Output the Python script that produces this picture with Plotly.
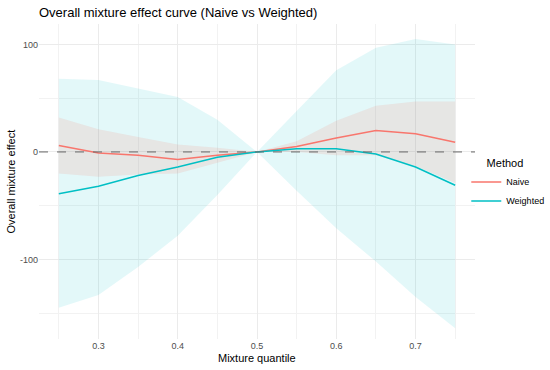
import plotly.graph_objects as go

quantile = [0.25, 0.30, 0.35, 0.40, 0.45, 0.50, 0.55, 0.60, 0.65, 0.70, 0.75]
naive = [6, -1, -3, -7, -3, 0, 5, 13, 20, 17, 9]
naive_lo = [-20, -23, -21, -20, -10, 0, 0, -3, -3, -13, -29]
naive_hi = [32, 21, 14, 7, 4, 0, 10, 29, 43, 47, 47]
weighted = [-39, -32, -22, -14, -5, 0, 3, 3, -2, -14, -31]
weighted_lo = [-145, -133, -107, -78, -40, 0, -36, -71, -102, -135, -164]
weighted_hi = [68, 67, 59, 51, 30, 0, 38, 76, 97, 105, 100]

x_ticks = [0.3, 0.4, 0.5, 0.6, 0.7]
y_ticks = [-100, 0, 100]

RED = "#F8766D"
TEAL = "#00BFC4"

fig = go.Figure()

# Weighted ribbon
fig.add_trace(go.Scatter(x=quantile, y=weighted_lo, mode="lines", line=dict(width=0),
                         showlegend=False, hoverinfo="skip"))
fig.add_trace(go.Scatter(x=quantile, y=weighted_hi, mode="lines", line=dict(width=0),
                         fill="tonexty", fillcolor="rgba(0,191,196,0.11)",
                         showlegend=False, hoverinfo="skip"))
# Naive ribbon
fig.add_trace(go.Scatter(x=quantile, y=naive_lo, mode="lines", line=dict(width=0),
                         showlegend=False, hoverinfo="skip"))
fig.add_trace(go.Scatter(x=quantile, y=naive_hi, mode="lines", line=dict(width=0),
                         fill="tonexty", fillcolor="rgba(248,118,109,0.14)",
                         showlegend=False, hoverinfo="skip"))

fig.add_hline(y=0, line=dict(color="#666666", width=1, dash="dash"))

fig.add_trace(go.Scatter(x=quantile, y=naive, mode="lines", name="Naive",
                         line=dict(color=RED, width=1.5)))
fig.add_trace(go.Scatter(x=quantile, y=weighted, mode="lines", name="Weighted",
                         line=dict(color=TEAL, width=1.5)))

font_family = "Liberation Sans, Arial, sans-serif"

fig.update_layout(
    width=550, height=370,
    margin=dict(l=39, r=75, t=24, b=31, autoexpand=False),
    paper_bgcolor="white", plot_bgcolor="white",
    font=dict(family=font_family, color="black", size=11),
    title=dict(text="Overall mixture effect curve (Naive vs Weighted)",
               x=39 / 550, xanchor="left", xref="container",
               y=1 - 12 / 370, yanchor="middle", yref="container",
               font=dict(size=13, color="black")),
    legend=dict(title=dict(text="\u00a0\u00a0\u00a0\u00a0\u00a0\u00a0Method", font=dict(size=11)),
                x=0.98, xanchor="left", y=0.59, yanchor="top",
                traceorder="normal",
                font=dict(size=9), itemwidth=30, tracegroupgap=0,
                bgcolor="rgba(0,0,0,0)"),
    showlegend=True,
    annotations=[
        dict(text="Mixture quantile", xref="paper", yref="paper", x=0.5, y=-0.06,
             xanchor="center", yanchor="middle", showarrow=False, font=dict(size=11)),
        dict(text="Overall mixture effect", xref="paper", yref="paper", x=-0.0665, y=0.5,
             xanchor="center", yanchor="middle", textangle=-90, showarrow=False,
             font=dict(size=11)),
    ],
)

fig.update_xaxes(
    range=[0.225, 0.775], tickvals=x_ticks,
    ticktext=[f"{v:.1f}" for v in x_ticks],
    showgrid=True, gridcolor="#ebebeb", gridwidth=1, zeroline=False,
    showline=False, ticks="", tickfont=dict(size=9, color="#4d4d4d"),
    minor=dict(tickvals=[0.25, 0.35, 0.45, 0.55, 0.65, 0.75], showgrid=True,
               gridcolor="#f2f2f2", gridwidth=1),
)
fig.update_yaxes(
    range=[-174, 119], tickvals=y_ticks,
    ticktext=[str(v) for v in y_ticks],
    showgrid=True, gridcolor="#ebebeb", gridwidth=1, zeroline=False,
    showline=False, ticks="", tickfont=dict(size=9, color="#4d4d4d"),
    minor=dict(tickvals=[-150, -50, 50], showgrid=True, gridcolor="#f2f2f2", gridwidth=1),
)

fig.write_html("out.html", config={"displayModeBar": False},
               post_script="document.body.style.margin='0';")
